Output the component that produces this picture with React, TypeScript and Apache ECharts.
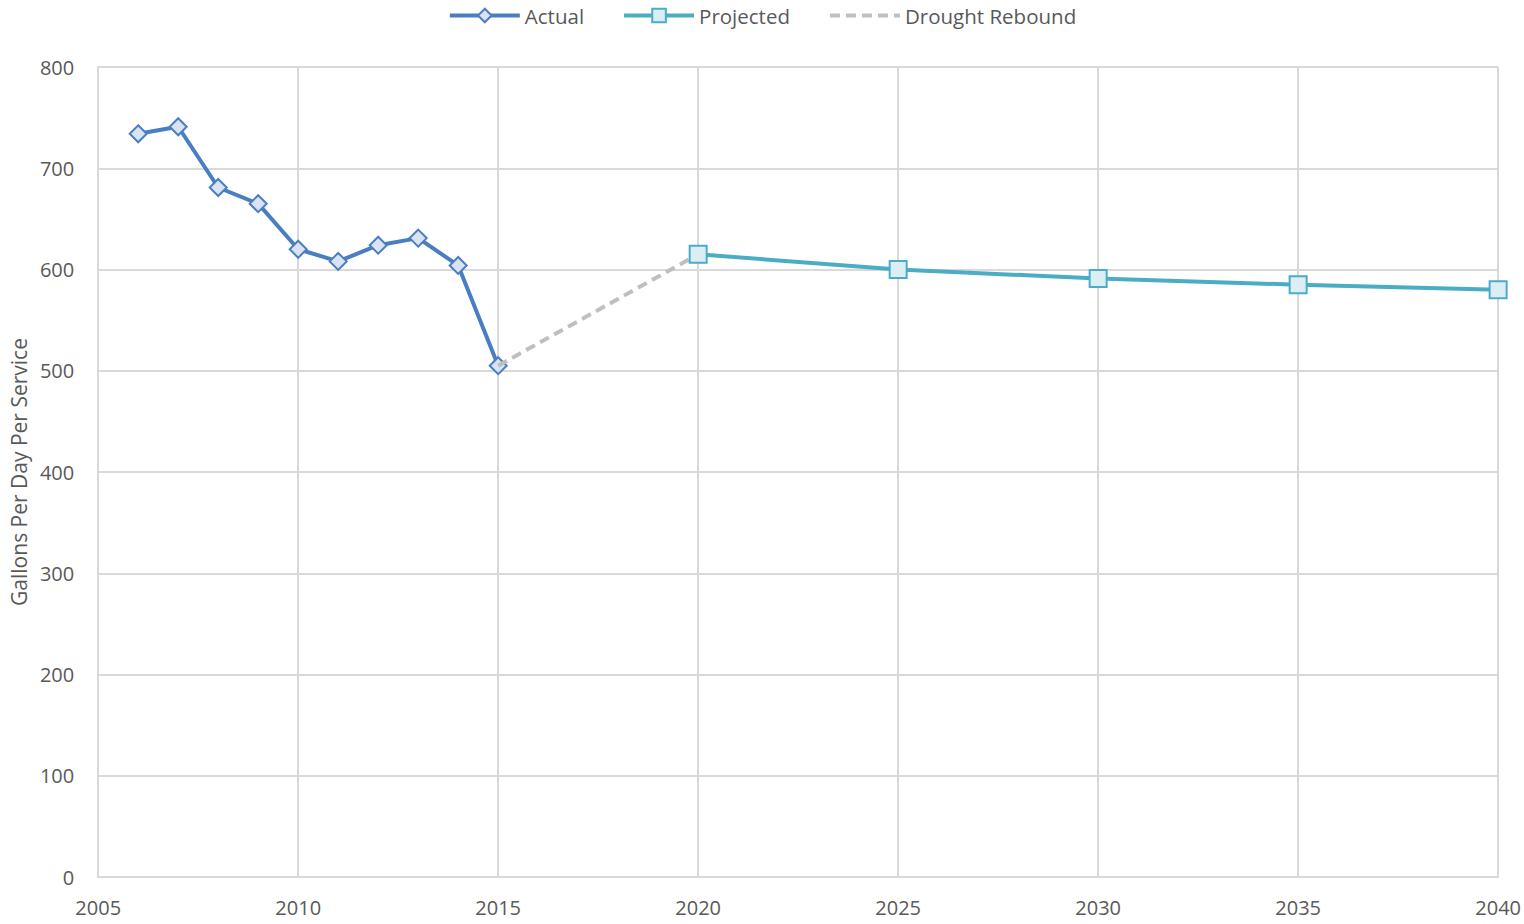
import React, { useEffect, useRef } from "react";
import * as echarts from "echarts";

const actualYears = [2006, 2007, 2008, 2009, 2010, 2011, 2012, 2013, 2014, 2015];
const actualValues = [734, 741, 681, 665, 620, 608, 624, 631, 604, 505];
const projectedYears = [2020, 2025, 2030, 2035, 2040];
const projectedValues = [615, 600, 591, 585, 580];
const reboundYears = [2015, 2020];
const reboundValues = [505, 615];
const yAxisTitle = "Gallons Per Day Per Service";

const FONT = "'Open Sans', 'Liberation Sans', sans-serif";
const TXT = "#595959";
const BLUE = "#4A7EC2";
const TEAL = "#4BACC6";
const GREY = "#BFBFBF";

export default function App() {
  const ref = useRef<HTMLDivElement>(null);
  useEffect(() => {
    if (!ref.current) return;
    const chart = echarts.init(ref.current, null, { renderer: "svg" });
    const zip = (xs: number[], ys: number[]) => xs.map((x, i) => [x, ys[i]]);
    chart.setOption({
      animation: false,
      textStyle: { fontFamily: FONT },
      legend: {
        top: 0,
        left: "center",
        itemWidth: 70,
        itemHeight: 17,
        itemGap: 38,
        textStyle: { fontSize: 20.5, color: TXT, fontFamily: FONT },
        data: [
          { name: "Actual", lineStyle: { width: 4, color: BLUE } },
          { name: "Projected", lineStyle: { width: 4, color: TEAL } },
          {
            name: "Drought Rebound",
            lineStyle: { width: 4, color: GREY, type: [10, 6] },
            itemStyle: { opacity: 0 },
          },
        ],
      },
      grid: { left: 96, right: 23, top: 67, bottom: 47, containLabel: false },
      xAxis: {
        type: "value",
        min: 2005,
        max: 2040,
        interval: 5,
        axisLine: { show: true, lineStyle: { color: "#D9D9D9", width: 2 } },
        axisTick: { show: false },
        splitLine: { show: true, lineStyle: { color: "#D9D9D9", width: 2 } },
        axisLabel: { color: TXT, fontSize: 20, margin: 20, fontFamily: FONT, formatter: (v: number) => String(v) },
      },
      yAxis: {
        type: "value",
        min: 0,
        max: 800,
        interval: 100,
        name: yAxisTitle,
        nameLocation: "middle",
        nameGap: 68,
        nameTextStyle: { color: TXT, fontSize: 21, fontFamily: FONT },
        axisLine: { show: true, lineStyle: { color: "#D9D9D9", width: 2 } },
        axisTick: { show: false },
        splitLine: { show: true, lineStyle: { color: "#D9D9D9", width: 2 } },
        axisLabel: { color: TXT, fontSize: 20, margin: 24, fontFamily: FONT },
      },
      series: [
        {
          name: "Actual",
          type: "line",
          data: zip(actualYears, actualValues),
          symbol: "diamond",
          symbolSize: 17,
          lineStyle: { color: BLUE, width: 4 },
          itemStyle: { color: "#DAE3F3", borderColor: BLUE, borderWidth: 2 },
          z: 2,
        },
        {
          name: "Drought Rebound",
          type: "line",
          data: zip(reboundYears, reboundValues),
          symbol: "none",
          lineStyle: { color: GREY, width: 4, type: [10, 6] },
          itemStyle: { color: GREY },
          z: 3,
        },
        {
          name: "Projected",
          type: "line",
          data: zip(projectedYears, projectedValues),
          symbol: "rect",
          symbolSize: 17,
          lineStyle: { color: TEAL, width: 4 },
          itemStyle: { color: "#DAEEF3", borderColor: TEAL, borderWidth: 2 },
          z: 4,
        },
      ],
    });
    return () => chart.dispose();
  }, []);
  return (
    <div
      ref={ref}
      style={{ position: "fixed", left: 0, top: 0, width: 1524, height: 924, background: "#fff" }}
    />
  );
}
